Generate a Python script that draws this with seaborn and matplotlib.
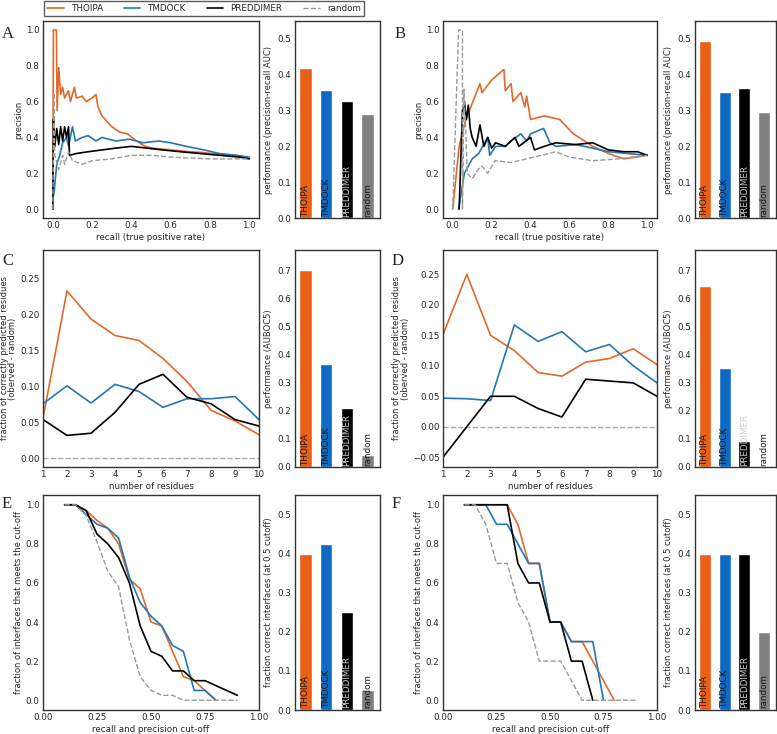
import numpy as np
import pandas as pd
import seaborn as sns
import matplotlib.pyplot as plt
from matplotlib.lines import Line2D

methods = ['THOIPA', 'TMDOCK', 'PREDDIMER', 'random']
bar_colors = ['#EA5F17', '#0D69C4', '#000000', '#808080']
line_colors = ['#E06A2B', '#2476B5', '#000000', '#9a9a9a']
label_colors = ['#1a1a1a', '#1a1a1a', '#cfcfcf', '#1a1a1a']

# bar heights
auc_a = [0.42, 0.357, 0.328, 0.29]
auc_b = [0.495, 0.352, 0.362, 0.295]
auboc_c = [0.705, 0.368, 0.212, 0.042]
auboc_d = [0.645, 0.355, 0.092, 0.0]
frac_e = [0.40, 0.425, 0.25, 0.05]
frac_f = [0.40, 0.40, 0.40, 0.20]

# precision-recall curves (recall, precision)
a_thoipa = [(0.0, 0.0), (0.003, 1.0), (0.018, 1.0), (0.022, 0.55), (0.03, 0.79), (0.04, 0.64),
            (0.05, 0.68), (0.06, 0.62), (0.08, 0.66), (0.09, 0.6), (0.11, 0.68), (0.12, 0.62),
            (0.15, 0.63), (0.17, 0.6), (0.2, 0.62), (0.22, 0.64), (0.23, 0.57), (0.25, 0.52),
            (0.3, 0.46), (0.34, 0.43), (0.38, 0.42), (0.42, 0.385), (0.47, 0.35), (0.51, 0.34),
            (0.6, 0.33), (0.7, 0.32), (0.77, 0.315), (0.85, 0.305), (0.94, 0.3), (1.0, 0.283)]
a_tmdock = [(0.005, 0.08), (0.02, 0.25), (0.035, 0.3), (0.05, 0.37), (0.07, 0.4), (0.08, 0.35),
            (0.1, 0.46), (0.115, 0.38), (0.15, 0.4), (0.18, 0.41), (0.22, 0.38), (0.25, 0.4),
            (0.32, 0.38), (0.39, 0.39), (0.46, 0.37), (0.54, 0.38), (0.6, 0.37), (0.68, 0.35),
            (0.77, 0.33), (0.85, 0.31), (0.93, 0.3), (1.0, 0.29)]
a_preddimer = [(0.0, 0.0), (0.003, 0.5), (0.01, 0.35), (0.02, 0.45), (0.03, 0.36), (0.04, 0.46),
               (0.05, 0.38), (0.06, 0.46), (0.07, 0.4), (0.08, 0.46), (0.085, 0.3), (0.12, 0.31),
               (0.18, 0.32), (0.25, 0.33), (0.32, 0.34), (0.4, 0.35), (0.48, 0.34), (0.56, 0.33),
               (0.65, 0.32), (0.75, 0.31), (0.85, 0.3), (0.95, 0.29), (1.0, 0.28)]
a_random = [(0.0, 0.0), (0.005, 0.65), (0.01, 0.3), (0.03, 0.22), (0.05, 0.3), (0.06, 0.25),
            (0.08, 0.32), (0.1, 0.27), (0.15, 0.25), (0.2, 0.27), (0.3, 0.28), (0.4, 0.3),
            (0.5, 0.3), (0.6, 0.29), (0.7, 0.285), (0.8, 0.28), (0.9, 0.28), (1.0, 0.28)]

b_thoipa = [(0.0, 0.0), (0.033, 0.35), (0.067, 0.5), (0.1, 0.59), (0.14, 0.7), (0.15, 0.65),
            (0.2, 0.72), (0.263, 0.78), (0.27, 0.66), (0.3, 0.7), (0.31, 0.6), (0.35, 0.65),
            (0.37, 0.57), (0.38, 0.63), (0.4, 0.5), (0.47, 0.52), (0.55, 0.5), (0.62, 0.42),
            (0.72, 0.35), (0.8, 0.31), (0.88, 0.28), (1.0, 0.3)]
b_tmdock = [(0.03, 0.0), (0.06, 0.2), (0.1, 0.28), (0.133, 0.31), (0.18, 0.4), (0.19, 0.3),
            (0.22, 0.35), (0.27, 0.35), (0.3, 0.38), (0.35, 0.42), (0.38, 0.38), (0.4, 0.42),
            (0.467, 0.45), (0.5, 0.37), (0.53, 0.35), (0.63, 0.36), (0.72, 0.34), (0.8, 0.32),
            (0.9, 0.31), (1.0, 0.3)]
b_preddimer = [(0.033, 0.0), (0.05, 0.55), (0.06, 0.6), (0.07, 0.5), (0.08, 0.58), (0.09, 0.45),
               (0.1, 0.4), (0.12, 0.35), (0.14, 0.47), (0.16, 0.35), (0.18, 0.4), (0.2, 0.34),
               (0.22, 0.37), (0.27, 0.35), (0.32, 0.4), (0.34, 0.35), (0.4, 0.4), (0.42, 0.33),
               (0.47, 0.35), (0.53, 0.37), (0.63, 0.36), (0.72, 0.37), (0.8, 0.33), (0.88, 0.32),
               (0.95, 0.32), (1.0, 0.3)]
b_random = [(0.0, 0.0), (0.03, 1.0), (0.05, 1.0), (0.05, 0.0), (0.058, 0.67), (0.075, 0.2),
            (0.1, 0.17), (0.13, 0.22), (0.15, 0.24), (0.18, 0.2), (0.217, 0.27), (0.3, 0.26),
            (0.417, 0.29), (0.53, 0.32), (0.6, 0.29), (0.72, 0.27), (0.85, 0.28), (1.0, 0.3)]

# correctly predicted residues (observed - random)
residues = [1, 2, 3, 4, 5, 6, 7, 8, 9, 10]
c_thoipa = [0.056, 0.233, 0.194, 0.171, 0.164, 0.139, 0.107, 0.067, 0.052, 0.033]
c_tmdock = [0.076, 0.101, 0.077, 0.103, 0.093, 0.071, 0.083, 0.083, 0.086, 0.054]
c_preddimer = [0.054, 0.032, 0.035, 0.064, 0.103, 0.117, 0.085, 0.076, 0.054, 0.045]
d_thoipa = [0.151, 0.25, 0.15, 0.125, 0.089, 0.083, 0.106, 0.112, 0.128, 0.102]
d_tmdock = [0.047, 0.046, 0.043, 0.167, 0.14, 0.156, 0.123, 0.135, 0.1, 0.072]
d_preddimer = [-0.05, 0.0, 0.05, 0.05, 0.03, 0.016, 0.078, 0.075, 0.072, 0.05]

# fraction of interfaces that meet the cut-off (cut-off, fraction)
e_thoipa = [(0.1, 1.0), (0.15, 1.0), (0.2, 0.97), (0.25, 0.92), (0.3, 0.88), (0.35, 0.8),
            (0.4, 0.62), (0.45, 0.57), (0.5, 0.4), (0.55, 0.38), (0.6, 0.25), (0.65, 0.12),
            (0.7, 0.1), (0.75, 0.05), (0.8, 0.0)]
e_tmdock = [(0.1, 1.0), (0.15, 1.0), (0.2, 0.95), (0.25, 0.9), (0.3, 0.88), (0.35, 0.83),
            (0.4, 0.63), (0.45, 0.5), (0.5, 0.43), (0.55, 0.38), (0.6, 0.28), (0.65, 0.25),
            (0.7, 0.05), (0.75, 0.05), (0.8, 0.0)]
e_preddimer = [(0.1, 1.0), (0.15, 1.0), (0.2, 0.97), (0.25, 0.85), (0.3, 0.8), (0.35, 0.73),
               (0.4, 0.6), (0.45, 0.38), (0.5, 0.25), (0.55, 0.225), (0.6, 0.15), (0.65, 0.15),
               (0.7, 0.1), (0.75, 0.1), (0.8, 0.075), (0.85, 0.05), (0.9, 0.025)]
e_random = [(0.1, 1.0), (0.15, 1.0), (0.2, 0.945), (0.25, 0.81), (0.3, 0.66), (0.35, 0.58),
            (0.4, 0.31), (0.45, 0.12), (0.5, 0.05), (0.55, 0.025), (0.6, 0.025), (0.65, 0.0),
            (0.7, 0.0), (0.75, 0.0), (0.8, 0.0), (0.85, 0.0), (0.9, 0.0)]
f_thoipa = [(0.1, 1.0), (0.15, 1.0), (0.2, 1.0), (0.25, 1.0), (0.3, 1.0), (0.35, 0.9),
            (0.4, 0.7), (0.45, 0.7), (0.5, 0.4), (0.55, 0.4), (0.6, 0.3), (0.65, 0.3),
            (0.7, 0.2), (0.75, 0.1), (0.8, 0.0)]
f_tmdock = [(0.1, 1.0), (0.15, 1.0), (0.2, 1.0), (0.25, 0.9), (0.3, 0.9), (0.35, 0.8),
            (0.4, 0.7), (0.45, 0.7), (0.5, 0.4), (0.55, 0.4), (0.6, 0.3), (0.65, 0.3),
            (0.7, 0.3), (0.75, 0.0)]
f_preddimer = [(0.1, 1.0), (0.15, 1.0), (0.2, 1.0), (0.25, 1.0), (0.3, 1.0), (0.35, 0.7),
               (0.4, 0.6), (0.45, 0.6), (0.5, 0.4), (0.55, 0.4), (0.6, 0.2), (0.65, 0.2),
               (0.7, 0.0)]
f_random = [(0.1, 1.0), (0.15, 1.0), (0.2, 0.9), (0.25, 0.7), (0.3, 0.7), (0.35, 0.5),
            (0.4, 0.4), (0.45, 0.2), (0.5, 0.2), (0.55, 0.2), (0.6, 0.1), (0.65, 0.0),
            (0.7, 0.0), (0.75, 0.0), (0.8, 0.0), (0.85, 0.0), (0.9, 0.0)]

sns.set_style('white')
plt.rcParams['font.family'] = ['DejaVu Sans']
FS = 6.3
FS_Y = 6.0

fig = plt.figure(figsize=(7.77, 7.34), dpi=100)
W, H = 777.0, 734.0


def add_ax(x0, x1, y0, y1):
    return fig.add_axes([x0 / W, 1 - y1 / H, (x1 - x0) / W, (y1 - y0) / H])


def style(ax):
    for s in ax.spines.values():
        s.set_color('#333333')
        s.set_linewidth(1.0)
    ax.tick_params(labelsize=FS, length=0, pad=2.5)


def draw_curves(ax, series, dashed_last=True):
    for i, pts in enumerate(series):
        df = pd.DataFrame(pts, columns=['x', 'y'])
        is_rand = dashed_last and i == 3
        sns.lineplot(data=df, x='x', y='y', ax=ax, estimator=None, sort=False,
                     color=line_colors[i], lw=1.0 if is_rand else 1.2,
                     linestyle='--' if is_rand else '-')
    style(ax)


def draw_bars(ax, values, ylabel, ylim, yticks):
    df = pd.DataFrame({'method': methods, 'value': values})
    sns.barplot(data=df, x='method', y='value', hue='method', palette=bar_colors,
                legend=False, width=0.6, ax=ax, saturation=1)
    for i, name in enumerate(methods):
        ax.text(i, 0.004, name, rotation=90, ha='center', va='bottom',
                fontsize=FS, color=label_colors[i])
    ax.set_xlim(-0.5, 3.6)
    ax.set_ylim(*ylim)
    ax.set_yticks(yticks)
    ax.set_xticks([])
    ax.set_xlabel('')
    ax.set_ylabel(ylabel, fontsize=FS_Y, labelpad=3)
    style(ax)


# column / row pixel boxes
LX = (43, 259)
LB = (295, 380)
RX = (443, 657)
RB = (695, 776)
R1 = (21, 218)
R2 = (250, 467)
R3 = (495, 710)

# row 1: precision-recall
for (xs, bx, curves, bars, letter, lx) in [
        (LX, LB, [a_thoipa, a_tmdock, a_preddimer, a_random], auc_a, 'A', 2),
        (RX, RB, [b_thoipa, b_tmdock, b_preddimer, b_random], auc_b, 'B', 395)]:
    ax = add_ax(xs[0], xs[1], R1[0], R1[1])
    draw_curves(ax, curves)
    ax.set_xlim(-0.05, 1.05)
    ax.set_ylim(-0.05, 1.05)
    ax.set_xticks([0.0, 0.2, 0.4, 0.6, 0.8, 1.0])
    ax.set_yticks([0.0, 0.2, 0.4, 0.6, 0.8, 1.0])
    ax.set_xlabel('recall (true positive rate)', fontsize=FS, labelpad=1.5)
    ax.set_ylabel('precision', fontsize=FS_Y, labelpad=2)
    axb = add_ax(bx[0], bx[1], R1[0], R1[1])
    draw_bars(axb, bars, 'performance (precision-recall AUC)', (0, 0.55),
              [0.0, 0.1, 0.2, 0.3, 0.4, 0.5])
    fig.text(lx / W, 1 - 38 / H, letter, fontsize=12, family='Liberation Serif', va='baseline')

# row 2: residues
for (xs, bx, curves, bars, letter, lx, ylim, yt) in [
        (LX, LB, [c_thoipa, c_tmdock, c_preddimer], auboc_c, 'C', 2, (-0.012, 0.29),
         [0.0, 0.05, 0.1, 0.15, 0.2, 0.25]),
        (RX, RB, [d_thoipa, d_tmdock, d_preddimer], auboc_d, 'D', 392, (-0.066, 0.29),
         [-0.05, 0.0, 0.05, 0.1, 0.15, 0.2, 0.25])]:
    ax = add_ax(xs[0], xs[1], R2[0], R2[1])
    ax.axhline(0, color='#aaaaaa', lw=1.0, ls='--')
    for i, vals in enumerate(curves):
        sns.lineplot(x=residues, y=vals, ax=ax, color=line_colors[i], lw=1.2)
    style(ax)
    ax.set_xlim(1, 10)
    ax.set_ylim(*ylim)
    ax.set_xticks(residues)
    ax.set_yticks(yt)
    ax.set_xlabel('number of residues', fontsize=FS, labelpad=1.5)
    ax.set_ylabel('fraction of correctly predicted residues\n(oberved - random)', fontsize=FS_Y,
                  labelpad=2, linespacing=0.95)
    axb = add_ax(bx[0], bx[1], R2[0], R2[1])
    draw_bars(axb, bars, 'performance (AUBOC5)', (0, 0.775),
              [0.0, 0.1, 0.2, 0.3, 0.4, 0.5, 0.6, 0.7])
    fig.text(lx / W, 1 - 265 / H, letter, fontsize=12, family='Liberation Serif', va='baseline')

# row 3: interface cut-off
for (xs, bx, curves, bars, letter, lx) in [
        (LX, LB, [e_thoipa, e_tmdock, e_preddimer, e_random], frac_e, 'E', 2),
        (RX, RB, [f_thoipa, f_tmdock, f_preddimer, f_random], frac_f, 'F', 392)]:
    ax = add_ax(xs[0], xs[1], R3[0], R3[1])
    draw_curves(ax, curves)
    ax.set_xlim(0, 1)
    ax.set_ylim(-0.05, 1.05)
    ax.set_xticks([0.0, 0.25, 0.5, 0.75, 1.0])
    ax.set_xticklabels(['0.00', '0.25', '0.50', '0.75', '1.00'])
    ax.set_yticks([0.0, 0.2, 0.4, 0.6, 0.8, 1.0])
    ax.set_xlabel('recall and precision cut-off', fontsize=FS, labelpad=1.5)
    ax.set_ylabel('fraction of interfaces that meets the cut-off', fontsize=FS_Y, labelpad=2)
    axb = add_ax(bx[0], bx[1], R3[0], R3[1])
    draw_bars(axb, bars, 'fraction correct interfaces (at 0.5 cutoff)', (0, 0.55),
              [0.0, 0.1, 0.2, 0.3, 0.4, 0.5])
    fig.text(lx / W, 1 - 508 / H, letter, fontsize=12, family='Liberation Serif', va='baseline')

handles = [Line2D([0], [0], color=line_colors[i], lw=1.2 if i < 3 else 1.0,
                  ls='-' if i < 3 else '--') for i in range(4)]
fig.legend(handles, methods, ncol=4, loc='upper left', bbox_to_anchor=(43 / W, 1.0),
           fontsize=FS, frameon=True, handlelength=1.9, columnspacing=2.4, handletextpad=0.8,
           borderaxespad=0.1, borderpad=0.35, edgecolor='#333333', fancybox=False)

fig.savefig('out.png', dpi=100)
